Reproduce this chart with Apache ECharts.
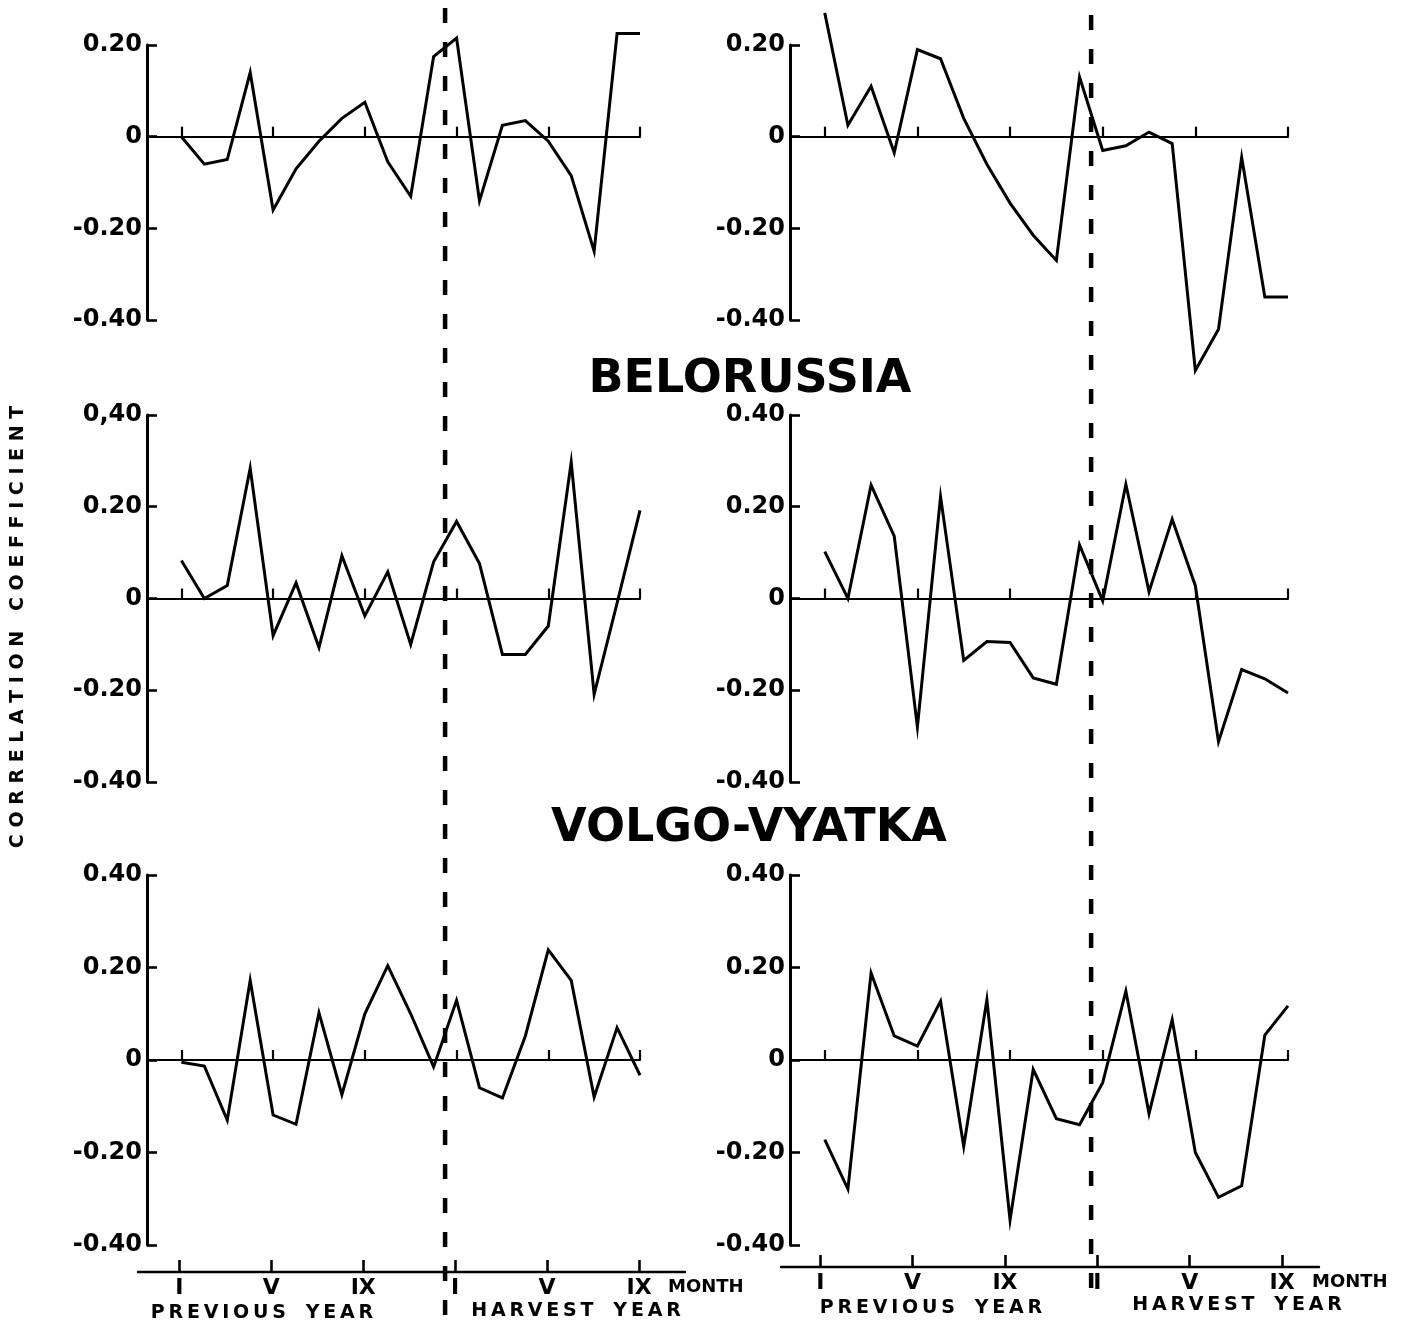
<!DOCTYPE html>
<html><head><meta charset="utf-8">
<script src="https://cdn.jsdelivr.net/npm/echarts@6/dist/echarts.min.js"></script>
<style>html,body{margin:0;padding:0;background:#fff}#c{width:1409px;height:1330px}</style>
</head><body><div id="c"></div>
<script>
// month index: 0 = I (previous year) ... 11 = XII, 12 = I (harvest year) ... 20 = IX
const months = [0,1,2,3,4,5,6,7,8,9,10,11,12,13,14,15,16,17,18,19,20];
const monthTicks = [0,4,8,12,16,20];
const monthTickLabels = ['I','V','IX','I','V','IX'];
const yearSplit = 11.5;

// correlation coefficients, row 1 (top)
const row1Left  = [0.00,-0.06,-0.05,0.14,-0.16,-0.07,-0.01,0.04,0.075,-0.055,-0.13,0.175,0.215,-0.14,0.025,0.035,-0.01,-0.085,-0.25,0.225,0.225];
const row1Right = [0.27,0.025,0.11,-0.035,0.19,0.17,0.04,-0.06,-0.145,-0.215,-0.27,0.13,-0.03,-0.02,0.01,-0.015,-0.51,-0.42,-0.045,-0.35,-0.35];
// row 2 (middle)
const row2Left  = [0.083,0.0,0.028,0.284,-0.081,0.034,-0.107,0.093,-0.038,0.058,-0.10,0.08,0.168,0.076,-0.122,-0.122,-0.06,0.297,-0.209,-0.01,0.192];
const row2Right = [0.102,0.0,0.247,0.136,-0.28,0.222,-0.135,-0.094,-0.096,-0.173,-0.187,0.117,-0.005,0.249,0.015,0.173,0.028,-0.312,-0.155,-0.175,-0.206];
// row 3 (bottom)
const row3Left  = [-0.005,-0.013,-0.13,0.172,-0.119,-0.139,0.102,-0.075,0.10,0.204,0.10,-0.015,0.129,-0.06,-0.082,0.052,0.238,0.172,-0.08,0.07,-0.033];
const row3Right = [-0.172,-0.279,0.188,0.052,0.03,0.127,-0.187,0.13,-0.346,-0.02,-0.127,-0.14,-0.049,0.149,-0.116,0.087,-0.20,-0.297,-0.272,0.054,0.117];

// y tick labels
const yTicksShort = [-0.4,-0.2,0,0.2];
const yLabelsShort = ['-0.40','-0.20','0','0.20'];
const yTicksTall = [-0.4,-0.2,0,0.2,0.4];
const yLabelsTall = ['-0.40','-0.20','0','0.20','0.40'];
const yLabelsTallComma = ['-0.40','-0.20','0','0.20','0,40'];

const regionTitles = ['BELORUSSIA','VOLGO-VYATKA'];
const yAxisTitle = 'CORRELATION COEFFICIENT';
const previousYear = 'PREVIOUS YEAR';
const harvestYear = 'HARVEST YEAR';
const monthWord = 'MONTH';

const FONT = 'DejaVu Sans';
const spacedWide = s => s.split(' ').map(w => w.split('').join(' ')).join('   ');
const spacedThin = s => s.split(' ').map(w => w.split('').join('\u2009')).join('   ');

const panels = [
  {data: row1Left,  col:0, row:0, max:0.2, ticks:yTicksShort, labels:yLabelsShort},
  {data: row1Right, col:1, row:0, max:0.2, ticks:yTicksShort, labels:yLabelsShort},
  {data: row2Left,  col:0, row:1, max:0.4, ticks:yTicksTall,  labels:yLabelsTallComma},
  {data: row2Right, col:1, row:1, max:0.4, ticks:yTicksTall,  labels:yLabelsTall},
  {data: row3Left,  col:0, row:2, max:0.4, ticks:yTicksTall,  labels:yLabelsTall},
  {data: row3Right, col:1, row:2, max:0.4, ticks:yTicksTall,  labels:yLabelsTall}
];
const colLeft = [147, 790];
const colWidth = [493, 498];
const rowTop = [45, 415, 875];
const rowHeight = [275, 367, 370];

const grids = [], xAxes = [], yAxes = [], series = [];
panels.forEach((p, i) => {
  grids.push({left: colLeft[p.col], top: rowTop[p.row], width: colWidth[p.col], height: rowHeight[p.row]});
  xAxes.push({
    gridIndex: i, type: 'value', min: -1.5, max: 20,
    axisLine: {show: true, onZero: true, lineStyle: {color: '#000', width: 2.2}},
    axisTick: {show: true, inside: true, length: 10, customValues: monthTicks, lineStyle: {color: '#000', width: 2.2}},
    axisLabel: {show: false}, splitLine: {show: false}
  });
  yAxes.push({
    gridIndex: i, type: 'value', min: -0.4, max: p.max, interval: 0.2,
    axisLine: {show: true, onZero: false, lineStyle: {color: '#000', width: 3}},
    axisTick: {show: true, inside: true, length: 10, lineStyle: {color: '#000', width: 2.6}},
    axisLabel: {
      color: '#000', fontFamily: FONT, fontWeight: 'bold', fontSize: 24, margin: 5,
      formatter: v => { const k = p.ticks.findIndex(t => Math.abs(t - v) < 1e-6); return k >= 0 ? p.labels[k] : ''; }
    },
    splitLine: {show: false}
  });
  series.push({
    type: 'line', xAxisIndex: i, yAxisIndex: i, clip: false, silent: true,
    symbol: 'none', showSymbol: false,
    lineStyle: {color: '#000', width: 3, join: 'miter'},
    data: months.map((m, j) => [m, p.data[j]])
  });
});

// bottom month axes
const bottomAxes = [
  {left: 138, top: 1271, width: 547, min: -1.8, max: 22},
  {left: 781, top: 1266, width: 538, min: -1.7, max: 21.6}
];
bottomAxes.forEach((b, k) => {
  const gi = grids.length;
  grids.push({left: b.left, top: b.top, width: b.width, height: 1});
  xAxes.push({
    gridIndex: gi, type: 'value', min: b.min, max: b.max, position: 'bottom',
    axisLine: {show: true, onZero: false, lineStyle: {color: '#000', width: 2.4}},
    axisTick: {show: true, inside: true, length: 12, customValues: monthTicks, lineStyle: {color: '#000', width: 2.6}},
    axisLabel: {
      show: true, customValues: monthTicks, margin: 5,
      color: '#000', fontFamily: FONT, fontWeight: 'bold', fontSize: 22,
      formatter: v => { const j = monthTicks.indexOf(Math.round(v)); return j >= 0 ? monthTickLabels[j] : ''; }
    },
    splitLine: {show: false}
  });
  yAxes.push({gridIndex: gi, type: 'value', min: 0, max: 1, show: false});
});

const chart = echarts.init(document.getElementById('c'), null, {renderer: 'canvas'});
chart.setOption({
  animation: false,
  backgroundColor: '#fff',
  grid: grids, xAxis: xAxes, yAxis: yAxes, series: series
});

const xSplitL = chart.convertToPixel({xAxisIndex: 0}, yearSplit);
const xSplitR = chart.convertToPixel({xAxisIndex: 1}, yearSplit);
const txt = (x, y, text, size, align, extra) => Object.assign({
  type: 'text', x: x, y: y, silent: true,
  style: {text: text, fill: '#000', font: 'bold ' + size + 'px "' + FONT + '"', align: align || 'center', verticalAlign: 'middle'}
}, extra || {});

chart.setOption({
  graphic: [
    {type: 'line', silent: true, shape: {x1: xSplitL, y1: 8, x2: xSplitL, y2: 1322}, style: {stroke: '#000', lineWidth: 4.5, lineDash: [15, 19]}},
    {type: 'line', silent: true, shape: {x1: xSplitR, y1: 15, x2: xSplitR, y2: 1292}, style: {stroke: '#000', lineWidth: 4.5, lineDash: [15, 19]}},
    txt(750, 380, regionTitles[0], 46),
    txt(749, 829, regionTitles[1], 46),
    txt(18, 627, spacedWide(yAxisTitle), 19, 'center', {rotation: Math.PI / 2}),
    txt(668, 1287, monthWord, 18, 'left'),
    txt(1312, 1282, monthWord, 18, 'left'),
    txt(262, 1313, spacedThin(previousYear), 19),
    txt(576, 1311, spacedThin(harvestYear), 19),
    txt(931, 1308, spacedThin(previousYear), 19),
    txt(1237, 1305, spacedThin(harvestYear), 19)
  ]
});
</script></body></html>
